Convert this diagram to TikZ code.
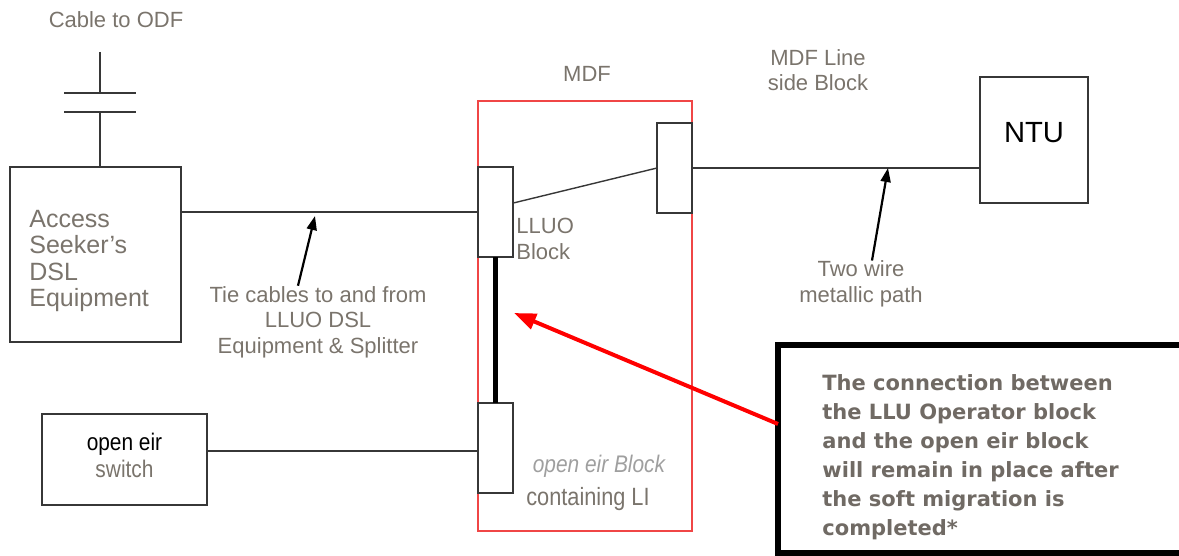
\documentclass[tikz,border=0pt]{standalone}
\usepackage{fontspec}
\setmainfont{Liberation Sans}
\newfontfamily\narrowfont[FakeStretch=0.87]{Liberation Sans}
\newfontfamily\notefont{DejaVu Sans}
\usetikzlibrary{arrows.meta, positioning}
\definecolor{LabelGrey}{RGB}{122,116,108}
\definecolor{NoteGrey}{RGB}{112,106,100}
\definecolor{LineGrey}{RGB}{55,55,55}
\definecolor{MdfRed}{RGB}{240,70,70}

\begin{document}
\begin{tikzpicture}[x=0.5pt, y=-0.5pt,
    blk/.style={draw=LineGrey, fill=white, line width=0.75pt, inner sep=0pt, outer sep=0pt,
      minimum width=17.5pt, minimum height=45pt},
    lbl/.style={text=LabelGrey, font=\fontsize{11}{12.8}\selectfont, align=center, inner sep=0pt},
    wire/.style={draw=LineGrey, line width=0.7pt},
    pointer/.style={-{Triangle[length=7pt,width=5pt]}, line width=1.1pt},
  ]
    \useasboundingbox (0,0) rectangle (1179,556);

    % MDF frame
    \node[draw=MdfRed, line width=0.7pt, minimum width=107pt, minimum height=215pt,
      inner sep=0pt] (mdf) at (585,316) {};
    \node[lbl] (mdftxt) at (587,74) {MDF};

    % Blocks
    \node[blk] (lluo) at (495.5,212) {};
    \node[blk] (lineside) at (674.5,168) {};
    \node[blk] (eirblk) at (495.5,448) {};
    \node[blk, minimum width=85.5pt, minimum height=87.5pt] (access) at (95.5,254.5) {};
    \node[blk, minimum width=54pt, minimum height=63pt, font=\fontsize{14.6}{16}\selectfont]
      (ntu) at (1034,140) {\raisebox{8pt}{NTU}};
    \node[blk, minimum width=82.5pt, minimum height=45.5pt, align=center,
      font=\narrowfont\fontsize{12}{10.5}\selectfont] (switch) at (124.5,459.5)
      {\raisebox{4pt}{open eir}\\\raisebox{4pt}{\textcolor{LabelGrey}{switch}}};
    \node[lbl, align=left, anchor=west, font=\fontsize{12.5}{13.3}\selectfont]
      (accesstxt) at (29,261) {Access\\Seeker's\\DSL\\Equipment};

    % Cable to ODF
    \coordinate (captop) at (100,52);
    \coordinate (capa) at (100,93);
    \coordinate (capb) at (100,112);
    \node[lbl] (odf) at (116,20) {Cable to ODF};
    \draw[wire] (captop) -- (capa);
    \draw[wire] ([xshift=-18pt]capa) -- ([xshift=18pt]capa);
    \draw[wire] ([xshift=-18pt]capb) -- ([xshift=18pt]capb);
    \draw[wire] (capb) -- (capb |- access.north);

    % Wiring
    \draw[wire] (access.east |- lluo.west) -- (lluo.west);
    \draw[wire] (lluo.27) -- (lineside.west);
    \draw[wire] (lineside.east) -- (lineside.east -| ntu.west);
    \draw[line width=2.5pt] (lluo.south) -- (eirblk.north);
    \draw[wire] (eirblk.west |- 0,451) -- (switch.east |- 0,451);

    % Labels
    \node[lbl] (sidetxt) at (818,70) {MDF Line\\side Block};
    \node[lbl, align=left, anchor=west] (lluotxt) at (516,239) {LLUO\\Block};
    \node[lbl] (tie) at (318,322) {Tie cables to and from\\LLUO DSL\\Equipment \& Splitter};
    \node[lbl] (twowire) at (861,284) {Two wire\\metallic path};
    \node[text=gray!75, inner sep=0pt, font=\narrowfont\itshape\fontsize{12}{14}\selectfont]
      (eirtxt) at (599,466) {open eir Block};
    \node[text=LabelGrey, inner sep=0pt, font=\narrowfont\fontsize{12.5}{14}\selectfont]
      (containtxt) at (588,499) {containing LI};

    % Annotations
    \coordinate (tiept) at (315,216);
    \coordinate (wirept) at (888,168);
    \draw[pointer] ([xshift=-10pt]tie.north) -- (tiept);
    \draw[pointer] ([xshift=5.5pt]twowire.north) -- (wirept);

    % Note box
    \coordinate (notew) at (778,424);
    \coordinate (notetip) at (514,313);
    \draw[line width=2.6pt] (1185,345) -| (778,553) -- (1185,553);
    \node[anchor=north west, inner sep=0pt, align=left, text=NoteGrey,
      font=\notefont\bfseries\fontsize{10.5}{14.5}\selectfont] (note) at (822,374)
      {The connection between\\the LLU Operator block\\and the open eir block\\will remain in place after\\the soft migration is\\completed*};
    \draw[red, line width=2pt, -{Triangle[length=11pt,width=8pt]}] (notew) -- (notetip);
\end{tikzpicture}
\end{document}
